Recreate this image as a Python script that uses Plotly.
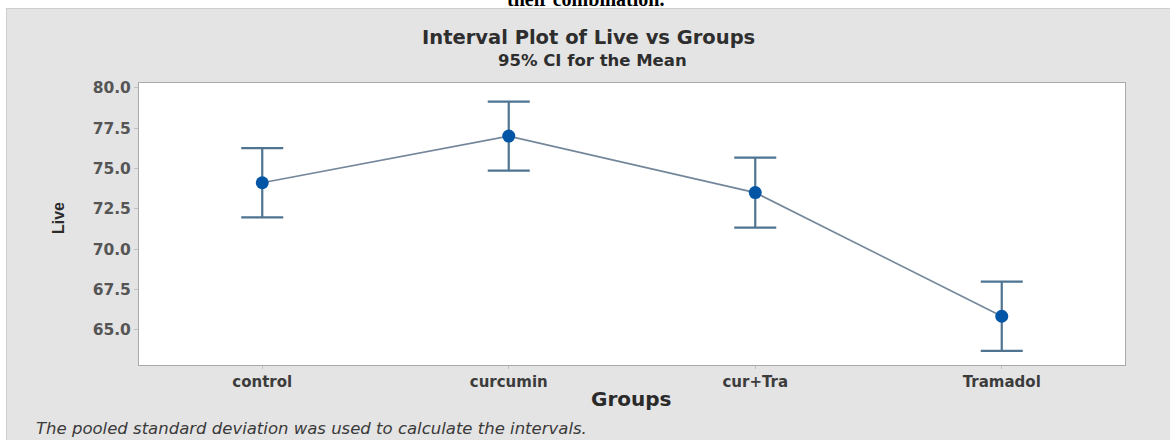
import plotly.graph_objects as go

# ---- data ----
groups = ["control", "curcumin", "cur+Tra", "Tramadol"]
means = [74.12, 77.01, 73.51, 65.85]
ci_lower = [71.98, 74.87, 71.34, 63.70]
ci_upper = [76.26, 79.15, 75.68, 67.99]
y_ticks = [65.0, 67.5, 70.0, 72.5, 75.0, 77.5, 80.0]

err_plus = [u - m for u, m in zip(ci_upper, means)]
err_minus = [m - l for m, l in zip(means, ci_lower)]

W, H = 1174, 440
L, R, T, B = 139, 49, 83, 75
PW, PH = W - L - R, H - T - B


def px_x(p):
    return (p - L) / PW


def px_y(p):
    return (H - B - p) / PH


fig = go.Figure()

fig.add_trace(go.Scatter(
    x=groups, y=means, mode="lines",
    line=dict(color="#74879a", width=1.6),
    hoverinfo="skip", showlegend=False,
))
fig.add_trace(go.Scatter(
    x=groups, y=means, mode="markers",
    marker=dict(color="#0356a6", size=13, symbol="circle"),
    error_y=dict(type="data", symmetric=False, array=err_plus, arrayminus=err_minus,
                 color="#4f7491", thickness=2.2, width=21),
    showlegend=False,
))

fig.update_layout(
    width=W, height=H,
    margin=dict(l=L, r=R, t=T, b=B),
    paper_bgcolor="#e4e4e4",
    plot_bgcolor="#ffffff",
    xaxis=dict(
        type="category", categoryorder="array", categoryarray=groups,
        range=[-0.5, 3.5],
        showgrid=False, zeroline=False,
        showline=True, linecolor="#ababab", linewidth=1, mirror=True,
        ticks="outside", ticklen=3, tickcolor="#c0c0c0",
        tickfont=dict(family="DejaVu Sans", size=15, color="#3c3c3c", weight="bold"),
    ),
    yaxis=dict(
        range=[62.83, 80.3],
        tickvals=y_ticks, tickformat=".1f",
        showgrid=False, zeroline=False,
        showline=True, linecolor="#ababab", linewidth=1, mirror=True,
        ticks="outside", ticklen=4, tickcolor="#c0c0c0",
        tickfont=dict(family="DejaVu Sans", size=15.5, color="#555555", weight="bold"),
    ),
)

shapes = [
    # white strips outside the grey panel (cropped figure look)
    dict(type="rect", xref="paper", yref="paper", x0=px_x(0), x1=px_x(W), y0=px_y(8), y1=px_y(0),
         fillcolor="#ffffff", line=dict(width=0), layer="below"),
    dict(type="rect", xref="paper", yref="paper", x0=px_x(0), x1=px_x(6), y0=px_y(H), y1=px_y(0),
         fillcolor="#ffffff", line=dict(width=0), layer="below"),
    dict(type="rect", xref="paper", yref="paper", x0=px_x(1170), x1=px_x(W), y0=px_y(H), y1=px_y(0),
         fillcolor="#ffffff", line=dict(width=0), layer="below"),
    dict(type="line", xref="paper", yref="paper", x0=px_x(6), x1=px_x(1170), y0=px_y(8.5), y1=px_y(8.5),
         line=dict(color="#cfcfcf", width=1)),
    dict(type="line", xref="paper", yref="paper", x0=px_x(6.5), x1=px_x(6.5), y0=px_y(H), y1=px_y(8),
         line=dict(color="#cfcfcf", width=1)),
]
fig.update_layout(shapes=shapes)

annotations = [
    dict(text="<b>their combination.</b>", xref="paper", yref="paper",
         x=px_x(585), y=px_y(12), xanchor="center", yanchor="bottom", showarrow=False,
         font=dict(family="Liberation Serif", size=20, color="#000000")),
    dict(text="Interval Plot of Live vs Groups", xref="paper", yref="paper",
         x=px_x(588), y=px_y(37), xanchor="center", yanchor="middle", showarrow=False,
         font=dict(family="DejaVu Sans", size=19.5, color="#2e2e2e", weight="bold")),
    dict(text="95% CI for the Mean", xref="paper", yref="paper",
         x=px_x(592), y=px_y(60), xanchor="center", yanchor="middle", showarrow=False,
         font=dict(family="DejaVu Sans", size=16.5, color="#2e2e2e", weight="bold")),
    dict(text="<b>Live</b>", xref="paper", yref="paper",
         x=px_x(58), y=px_y(218), xanchor="center", yanchor="middle", showarrow=False,
         textangle=-90,
         font=dict(family="Liberation Sans", size=16, color="#2a2a2a")),
    dict(text="<b>Groups</b>", xref="paper", yref="paper",
         x=px_x(631), y=px_y(399), xanchor="center", yanchor="middle", showarrow=False,
         font=dict(family="DejaVu Sans", size=20, color="#2a2a2a")),
    dict(text="<i>The pooled standard deviation was used to calculate the intervals.</i>",
         xref="paper", yref="paper",
         x=px_x(34), y=px_y(428), xanchor="left", yanchor="middle", showarrow=False,
         font=dict(family="DejaVu Sans", size=16.5, color="#3a3a3a")),
]
fig.update_layout(annotations=annotations)

fig.write_html(
    "out.html",
    config={"displayModeBar": False},
    post_script="document.body.style.margin='0';document.body.style.overflow='hidden';",
)
